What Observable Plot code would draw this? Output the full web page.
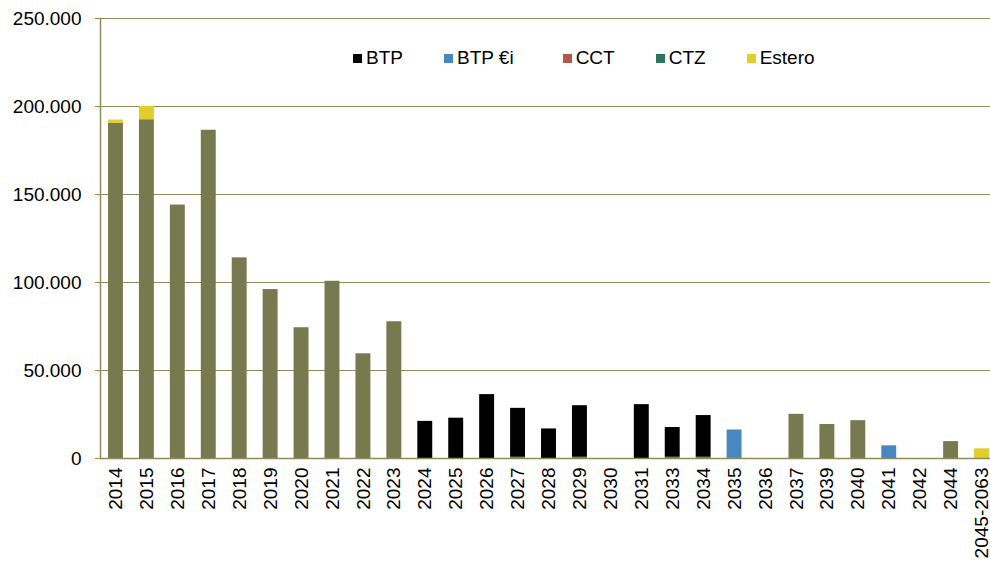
<!DOCTYPE html>
<html><head><meta charset="utf-8">
<script src="https://cdn.jsdelivr.net/npm/d3@7"></script>
<script src="https://cdn.jsdelivr.net/npm/@observablehq/plot@0.6"></script>
<style>
body{margin:0;background:#fff;overflow:hidden}
#wrap{position:relative;width:990px;height:561px;overflow:hidden;font-family:"Liberation Sans",Arial,sans-serif}
#legend{position:absolute;top:47px;left:353px;display:flex;gap:41px;font-size:19px;color:#000;line-height:22px}
.item{display:flex;align-items:center}
.item.wide{margin-right:8px}
.sw{width:9px;height:9px;margin-right:4px}
</style></head><body><div id="wrap"><div id="chart"></div><div id="legend"></div></div>
<script>
const categories = ["2014","2015","2016","2017","2018","2019","2020","2021","2022","2023","2024","2025","2026","2027","2028","2029","2030","2031","2033","2034","2035","2036","2037","2039","2040","2041","2042","2044","2045-2063"];
const altri  = [190500,192500,144000,186500,114000,96000,74300,100700,59500,77700,0,0,0,700,0,700,0,0,700,700,500,0,25100,19300,21500,0,0,9600,0];
const btp    = [0,0,0,0,0,0,0,0,0,0,21100,22900,36300,27800,16800,29300,0,30600,16900,23700,0,0,0,0,0,0,0,0,0];
const btpEi  = [0,0,0,0,0,0,0,0,0,0,0,0,0,0,0,0,0,0,0,0,15700,0,0,0,0,7200,0,0,0];
const cct    = [0,0,0,0,0,0,0,0,0,0,0,0,0,0,0,0,0,0,0,0,0,0,0,0,0,0,0,0,0];
const ctz    = [0,0,0,0,0,0,0,0,0,0,0,0,0,0,0,0,0,0,0,0,0,0,0,0,0,0,0,0,0];
const estero = [1800,7500,0,0,0,0,0,0,0,0,0,0,0,0,0,0,0,0,0,0,0,0,0,0,0,0,0,0,5500];
const seriesNames = ["Altri","BTP","BTP €i","CCT","CTZ","Estero"];
const seriesValues = [altri, btp, btpEi, cct, ctz, estero];
const legendNames = ["BTP","BTP €i","CCT","CTZ","Estero"];
const yTicks = [0,50000,100000,150000,200000,250000];

const palette = ["#777a4e","#000000","#4a86c0","#b3574a","#2f7358","#e2cd2a"];
const gridColor = "#8b8b5c";

const rows = [];
seriesNames.forEach((s, si) => categories.forEach((c, ci) => rows.push({cat: c, series: s, value: seriesValues[si][ci]})));

const fmt = d3.formatLocale({decimal: ",", thousands: ".", grouping: [3], currency: ["", ""]}).format(",d");

const chart = Plot.plot({
  width: 990, height: 561,
  marginLeft: 100, marginRight: -7, marginTop: 18, marginBottom: 103,
  style: {fontFamily: "'Liberation Sans', Arial, sans-serif", fontSize: "19px", color: "#000", background: "#fff", overflow: "hidden"},
  x: {domain: categories, padding: 0, round: false, label: null},
  y: {domain: [0, 250000], label: null},
  color: {domain: seriesNames, range: palette},
  marks: [
    Plot.gridY(yTicks, {stroke: gridColor, strokeOpacity: 1, strokeWidth: 1}),
    Plot.barY(rows, {x: "cat", y: "value", fill: "series", order: seriesNames, insetLeft: 8, insetRight: 8}),
    Plot.ruleY([0], {stroke: gridColor, strokeWidth: 1.5}),
    Plot.frame({anchor: "left", stroke: gridColor, strokeWidth: 1.5}),
    Plot.axisY(yTicks, {tickSize: 5, tickPadding: 14, tickFormat: fmt, stroke: gridColor, fill: "#000", label: null, fontSize: 19}),
    Plot.axisX({tickSize: 0, tickPadding: 9, tickRotate: -90, label: null, fill: "#000", fontSize: 19})
  ]
});
document.getElementById("chart").appendChild(chart);

const legend = document.getElementById("legend");
legendNames.forEach(n => {
  const it = document.createElement("div");
  it.className = n === "BTP €i" ? "item wide" : "item";
  const sw = document.createElement("span");
  sw.className = "sw";
  sw.style.background = palette[seriesNames.indexOf(n)];
  const t = document.createElement("span");
  t.textContent = n;
  it.appendChild(sw); it.appendChild(t);
  legend.appendChild(it);
});
</script></body></html>
